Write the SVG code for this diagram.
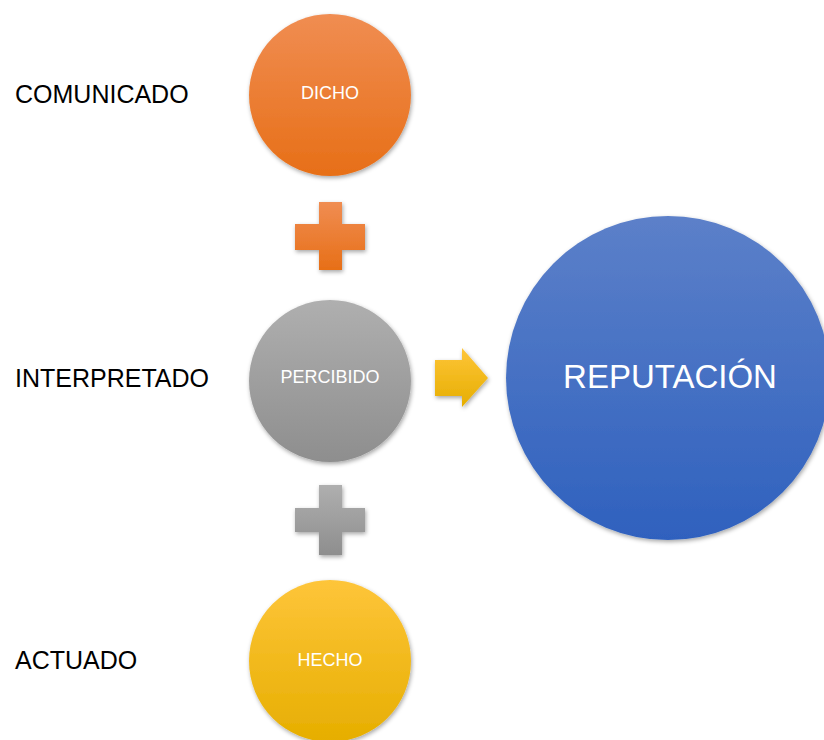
<svg xmlns="http://www.w3.org/2000/svg" width="824" height="740" viewBox="0 0 824 740">
<style>
.lbl{font-family:"Liberation Sans",Arial,sans-serif;font-size:25px;fill:#000}
.ct{font-family:"Liberation Sans",Arial,sans-serif;font-size:18px;fill:#fff;text-anchor:middle;dominant-baseline:central}
.big{font-size:33px}
</style>
<defs>
<linearGradient id="gO" x1="0" y1="0" x2="0" y2="1"><stop offset="0" stop-color="#F08D52"/><stop offset="1" stop-color="#E76F17"/></linearGradient>
<linearGradient id="gG" x1="0" y1="0" x2="0" y2="1"><stop offset="0" stop-color="#AFAFAF"/><stop offset="1" stop-color="#8E8E8E"/></linearGradient>
<linearGradient id="gY" x1="0" y1="0" x2="0" y2="1"><stop offset="0" stop-color="#FEC53A"/><stop offset="1" stop-color="#E6AE00"/></linearGradient>
<linearGradient id="gB" x1="0" y1="0" x2="0" y2="1"><stop offset="0" stop-color="#5C80C9"/><stop offset="1" stop-color="#2F61BE"/></linearGradient>
<filter id="sh" x="-20%" y="-20%" width="140%" height="140%"><feDropShadow dx="1" dy="2" stdDeviation="2" flood-color="#000" flood-opacity="0.35"/></filter>
</defs>
<g id="labels">
<text class="lbl" x="15" y="103">COMUNICADO</text>
<text class="lbl" x="15" y="387">INTERPRETADO</text>
<text class="lbl" x="15" y="669">ACTUADO</text>
</g>
<g id="dicho"><circle cx="330" cy="95" r="81" fill="url(#gO)" filter="url(#sh)"/><text class="ct" x="330" y="93">DICHO</text></g>
<g id="percibido"><circle cx="330" cy="381" r="81" fill="url(#gG)" filter="url(#sh)"/><text class="ct" x="330" y="377">PERCIBIDO</text></g>
<g id="hecho"><circle cx="330" cy="661" r="81" fill="url(#gY)" filter="url(#sh)"/><text class="ct" x="330" y="660">HECHO</text></g>
<g id="reputacion"><circle cx="668" cy="378" r="162" fill="url(#gB)" filter="url(#sh)"/><text class="ct big" x="670" y="376">REPUTACIÓN</text></g>
<g id="connectors">
<path id="plus1" d="M319 202H342V224H365V250H342V270H319V250H295V224H319Z" fill="url(#gO)" filter="url(#sh)"/>
<path id="plus2" d="M319 485H342V508H365V532H342V555H319V532H295V508H319Z" fill="url(#gG)" filter="url(#sh)"/>
<path id="arrow" d="M435 360H462V348L488 378L462 407V396H435Z" fill="url(#gY)" filter="url(#sh)"/>
</g>
</svg>
